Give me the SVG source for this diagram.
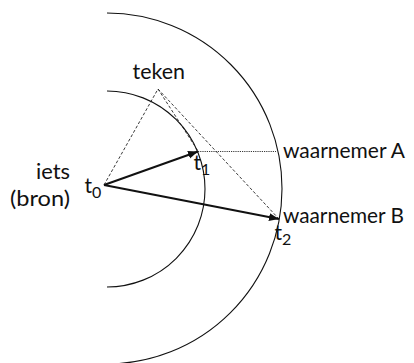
<svg xmlns="http://www.w3.org/2000/svg" width="414" height="363" viewBox="0 0 414 363">
  <style>
    .lbl { font-family: Lato, "Open Sans", "Liberation Sans", sans-serif; font-size: 21px; fill: #111; }
    .sub { font-family: Lato, "Open Sans", "Liberation Sans", sans-serif; font-size: 16px; fill: #111; }
    .arc { fill: none; stroke: #111; stroke-width: 1.1; }
    .ray { fill: none; stroke: #111; stroke-width: 2; }
    .dash { fill: none; stroke: #222; stroke-width: 0.9; stroke-dasharray: 3 2; }
    .dot { fill: none; stroke: #222; stroke-width: 0.9; stroke-dasharray: 1.2 1; }
  </style>
  <defs>
    <marker id="ah" markerUnits="userSpaceOnUse" markerWidth="12" markerHeight="10" refX="10" refY="4" orient="auto">
      <path d="M0,0 L10,4 L0,8 Z" fill="#111"/>
    </marker>
  </defs>
  <rect width="414" height="363" fill="#fff"/>

  <g id="wavefronts">
    <path class="arc" d="M107,91 A98,98 0 0 1 107,287"/>
    <path class="arc" d="M107,13 A175.5,175.5 0 0 1 106,364"/>
  </g>

  <g id="connectors">
    <path class="dash" d="M104,185 L158,89 L279,219"/>
    <path class="dash" d="M158,89 L198,151"/>
    <path class="dot" d="M198,151.5 L276,151.5"/>
    <path class="ray" d="M104,185 L198,151.5" marker-end="url(#ah)"/>
    <path class="ray" d="M104,185 L279,219" marker-end="url(#ah)"/>
  </g>

  <g id="bron">
    <text class="lbl" x="70" y="179" text-anchor="end" textLength="34" lengthAdjust="spacingAndGlyphs">iets</text>
    <text class="lbl" x="70" y="206" text-anchor="end" textLength="60" lengthAdjust="spacingAndGlyphs">(bron)</text>
    <text class="lbl" x="84.5" y="193">t<tspan class="sub" dy="5">0</tspan></text>
  </g>

  <g id="teken">
    <text class="lbl" x="132.5" y="79" textLength="52.5" lengthAdjust="spacingAndGlyphs">teken</text>
  </g>

  <g id="waarnemerA">
    <text class="lbl" x="283" y="158" textLength="122" lengthAdjust="spacingAndGlyphs">waarnemer A</text>
    <text class="lbl" x="193.5" y="170">t<tspan class="sub" dy="5">1</tspan></text>
  </g>

  <g id="waarnemerB">
    <text class="lbl" x="283" y="223" textLength="121" lengthAdjust="spacingAndGlyphs">waarnemer B</text>
    <text class="lbl" x="274.5" y="240">t<tspan class="sub" dy="5">2</tspan></text>
  </g>
</svg>
